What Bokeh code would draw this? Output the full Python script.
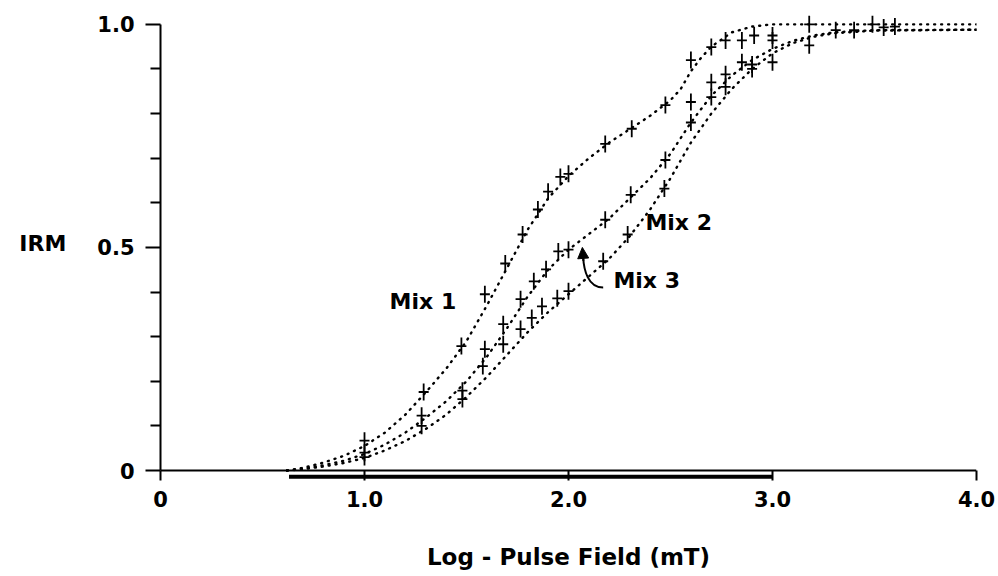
from bokeh.plotting import figure
from bokeh.models import Range1d, FixedTicker, Label, Arrow, NormalHead, Span
from bokeh.embed import file_html
from bokeh.resources import INLINE

# ---- data ----
curve_x = [0.62, 0.7, 0.8, 0.9, 1.0, 1.1, 1.2, 1.3, 1.4, 1.5, 1.6, 1.7, 1.8, 1.9, 2.0,
           2.1, 2.2, 2.3, 2.4, 2.5, 2.6, 2.7, 2.8, 2.9, 3.0, 3.1, 3.2, 3.3, 3.5, 4.0]
mix1_curve_x = [0.62, 0.7, 0.8, 0.9, 1.0, 1.1, 1.2, 1.3, 1.4, 1.5, 1.6, 1.7, 1.8, 1.9, 2.0,
                2.1, 2.2, 2.3, 2.4, 2.5, 2.55, 2.6, 2.65, 2.7, 2.8, 2.9, 3.0, 3.2, 3.6, 4.0]
mix1_curve_y = [0.0, 0.006, 0.018, 0.033, 0.055, 0.085, 0.125, 0.175, 0.228, 0.29, 0.37, 0.455,
                0.54, 0.61, 0.66, 0.70, 0.735, 0.765, 0.795, 0.83, 0.855, 0.895, 0.925, 0.95,
                0.982, 0.995, 1.0, 1.0, 1.0, 1.0]
mix2_curve_y = [0.0, 0.003, 0.009, 0.017, 0.028, 0.045, 0.066, 0.093, 0.125, 0.165, 0.21, 0.26,
                0.31, 0.355, 0.395, 0.435, 0.475, 0.525, 0.585, 0.655, 0.735, 0.80, 0.855, 0.9,
                0.935, 0.958, 0.972, 0.98, 0.986, 0.988]
mix3_curve_y = [0.0, 0.004, 0.012, 0.022, 0.037, 0.058, 0.085, 0.118, 0.155, 0.2, 0.255, 0.32,
                0.39, 0.45, 0.495, 0.53, 0.565, 0.61, 0.655, 0.71, 0.78, 0.84, 0.885, 0.92,
                0.945, 0.963, 0.975, 0.982, 0.987, 0.988]

mix1_x = [1.0, 1.29, 1.475, 1.59, 1.69, 1.775, 1.85, 1.90, 1.96, 2.0, 2.18, 2.31, 2.475,
          2.6, 2.70, 2.77, 2.85, 2.91, 3.0, 3.18, 3.49, 3.6]
mix1_y = [0.067, 0.176, 0.279, 0.395, 0.464, 0.529, 0.585, 0.625, 0.658, 0.665, 0.732, 0.766,
          0.819, 0.92, 0.949, 0.964, 0.964, 0.975, 0.975, 1.0, 1.0, 0.995]
mix2_x = [1.0, 1.28, 1.48, 1.58, 1.68, 1.765, 1.82, 1.87, 1.945, 2.0, 2.17, 2.29, 2.47,
          2.6, 2.70, 2.77, 2.9, 3.0, 3.4]
mix2_y = [0.03, 0.10, 0.16, 0.234, 0.283, 0.317, 0.342, 0.368, 0.386, 0.402, 0.469, 0.529,
          0.632, 0.78, 0.837, 0.86, 0.90, 0.915, 0.987]
mix3_x = [1.0, 1.28, 1.48, 1.59, 1.68, 1.765, 1.83, 1.89, 1.95, 2.0, 2.18, 2.305, 2.475,
          2.6, 2.70, 2.77, 2.85, 2.9, 3.0, 3.18, 3.31, 3.545]
mix3_y = [0.04, 0.123, 0.179, 0.272, 0.328, 0.384, 0.424, 0.451, 0.491, 0.495, 0.562, 0.618,
          0.696, 0.826, 0.87, 0.888, 0.915, 0.91, 0.964, 0.953, 0.987, 0.993]

bar_x = [0.63, 3.0]
x_ticks = [0, 1, 2, 3, 4]
x_tick_labels = ["0", "1.0", "2.0", "3.0", "4.0"]
y_ticks = [0, 0.5, 1.0]
y_tick_labels = ["0", "0.5", "1.0"]
y_minor = [0.1, 0.2, 0.3, 0.4, 0.6, 0.7, 0.8, 0.9]
series_labels = ["Mix 1", "Mix 2", "Mix 3"]

FONT = "DejaVu Sans"

p = figure(width=998, height=576, x_range=Range1d(0, 4.0), y_range=Range1d(-0.0224, 1.04),
           output_backend="svg", toolbar_location=None,
           min_border_left=160, min_border_right=22, min_border_top=6, min_border_bottom=96)
p.outline_line_color = None
p.grid.visible = False
p.background_fill_color = "white"

# x axis: ticks rise from the frame bottom up to y = 0; the axis line itself is a span at 0
xa = p.xaxis[0]
xa.ticker = FixedTicker(ticks=x_ticks, minor_ticks=[])
xa.major_label_overrides = {t: l for t, l in zip(x_ticks, x_tick_labels)}
xa.axis_line_color = None
xa.major_tick_in = 10
xa.major_tick_out = 0
xa.minor_tick_in = 0
xa.minor_tick_out = 0
xa.major_tick_line_width = 2
xa.major_tick_line_color = "black"
xa.major_label_text_color = "black"
xa.major_label_text_font = FONT
xa.major_label_text_font_style = "bold"
xa.major_label_text_font_size = "21px"
xa.major_label_standoff = 10
xa.axis_label = "Log - Pulse Field (mT)"
xa.axis_label_text_color = "black"
xa.axis_label_text_font = FONT
xa.axis_label_text_font_style = "bold"
xa.axis_label_text_font_size = "23px"
xa.axis_label_standoff = 34

p.add_layout(Span(location=0, dimension="width", line_color="black", line_width=2))

ya = p.yaxis[0]
ya.bounds = (0, 1)
ya.ticker = FixedTicker(ticks=y_ticks, minor_ticks=y_minor)
ya.major_label_overrides = {t: l for t, l in zip(y_ticks, y_tick_labels)}
ya.major_tick_out = 15
ya.major_tick_in = 0
ya.minor_tick_out = 10
ya.minor_tick_in = 0
ya.axis_line_width = 2
ya.axis_line_color = "black"
ya.major_tick_line_width = 2
ya.minor_tick_line_width = 2
ya.major_tick_line_color = "black"
ya.minor_tick_line_color = "black"
ya.major_label_text_color = "black"
ya.major_label_text_font = FONT
ya.major_label_text_font_style = "bold"
ya.major_label_text_font_size = "21px"
ya.major_label_standoff = 11
ya.axis_label = "IRM"
ya.axis_label_orientation = "horizontal"
ya.axis_label_text_color = "black"
ya.axis_label_text_font = FONT
ya.axis_label_text_font_style = "bold"
ya.axis_label_text_font_size = "22px"
ya.axis_label_standoff = 28

# thick bar under the axis
p.segment(x0=bar_x[0], x1=bar_x[1], y0=-0.014, y1=-0.014, line_width=4, line_color="black")

# dotted fitted curves
for cx, cy in [(mix1_curve_x, mix1_curve_y), (curve_x, mix2_curve_y), (curve_x, mix3_curve_y)]:
    p.line(cx, cy, line_color="black", line_width=2.4, line_dash="1 6", line_cap="round")

# data crosses (taller than wide)
for xs, ys in [(mix1_x, mix1_y), (mix2_x, mix2_y), (mix3_x, mix3_y)]:
    p.segment(x0=xs, x1=xs, y0=[y - 0.019 for y in ys], y1=[y + 0.019 for y in ys],
              line_color="black", line_width=1.8)
    p.scatter(xs, ys, marker="dash", size=10, line_color="black", line_width=1.8)

# labels
for x, y, t in zip([1.123, 2.377, 2.22], [0.379, 0.556, 0.426], series_labels):
    p.add_layout(Label(x=x, y=y, text=t, text_font=FONT, text_font_style="bold",
                       text_color="black", text_font_size="22px",
                       text_baseline="middle", text_align="left"))

# curved arrow for Mix 3
p.bezier(x0=[2.17], y0=[0.41], x1=[2.072], y1=[0.478], cx0=[2.095], cy0=[0.41],
         cx1=[2.075], cy1=[0.45], line_color="black", line_width=2)
p.add_layout(Arrow(end=NormalHead(size=11, fill_color="black", line_color="black"),
                   x_start=2.073, y_start=0.47, x_end=2.068, y_end=0.50,
                   line_color="black", line_width=2))

open("out.html", "w").write(file_html(p, INLINE))
